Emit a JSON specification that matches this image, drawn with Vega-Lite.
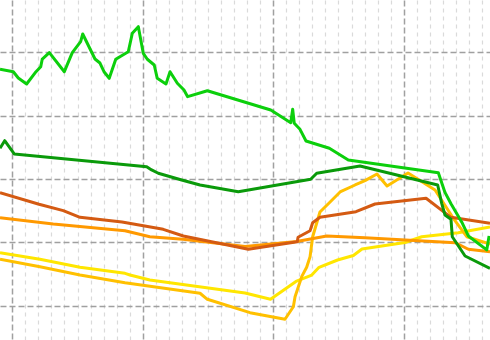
{
  "$schema": "https://vega.github.io/schema/vega-lite/v6.json",
  "width": 490,
  "height": 340,
  "padding": 0,
  "autosize": {"type": "none"},
  "background": "white",
  "config": {"view": {"stroke": null}},
  "data": {"values": [
    {"s":"yellow","x":-0.94,"y":8.39},{"s":"yellow","x":2.12,"y":7.35},{"s":"yellow","x":5.19,"y":6.09},{"s":"yellow","x":8.64,"y":5.14},{"s":"yellow","x":9.02,"y":4.87},{"s":"yellow","x":10.54,"y":4.09},{"s":"yellow","x":17.84,"y":2.03},{"s":"yellow","x":19.79,"y":1.04},{"s":"yellow","x":21.74,"y":3.85},{"s":"yellow","x":22.95,"y":4.87},{"s":"yellow","x":23.51,"y":6.09},{"s":"yellow","x":24.93,"y":7.24},{"s":"yellow","x":26.14,"y":7.95},{"s":"yellow","x":26.8,"y":8.97},{"s":"yellow","x":30.1,"y":10.0},{"s":"yellow","x":31.38,"y":10.91},{"s":"yellow","x":34.18,"y":11.55},{"s":"yellow","x":36.61,"y":12.44},
    {"s":"gold","x":-0.94,"y":7.35},{"s":"gold","x":2.12,"y":6.18},{"s":"gold","x":5.19,"y":4.87},{"s":"gold","x":8.64,"y":3.66},{"s":"gold","x":14.39,"y":1.99},{"s":"gold","x":14.95,"y":1.04},{"s":"gold","x":18.22,"y":-1.07},{"s":"gold","x":20.9,"y":-2.11},{"s":"gold","x":21.54,"y":-0.13},{"s":"gold","x":21.67,"y":1.45},{"s":"gold","x":22.18,"y":4.61},{"s":"gold","x":22.56,"y":6.09},{"s":"gold","x":22.82,"y":7.76},{"s":"gold","x":23.02,"y":10.91},{"s":"gold","x":23.58,"y":14.81},{"s":"gold","x":24.2,"y":16.07},{"s":"gold","x":25.12,"y":17.97},{"s":"gold","x":26.27,"y":19.07},{"s":"gold","x":27.03,"y":19.75},{"s":"gold","x":27.95,"y":20.8},{"s":"gold","x":28.72,"y":18.91},{"s":"gold","x":30.33,"y":20.96},{"s":"gold","x":32.4,"y":18.28},{"s":"gold","x":33.8,"y":13.82},{"s":"gold","x":34.83,"y":10.91},{"s":"gold","x":36.61,"y":9.76},
    {"s":"orange","x":-0.94,"y":13.91},{"s":"orange","x":3.14,"y":12.92},{"s":"orange","x":8.64,"y":11.86},{"s":"orange","x":10.54,"y":10.91},{"s":"orange","x":13.08,"y":10.5},{"s":"orange","x":17.84,"y":9.37},{"s":"orange","x":21.8,"y":10.16},{"s":"orange","x":24.1,"y":11.03},{"s":"orange","x":27.03,"y":10.76},{"s":"orange","x":33.93,"y":9.97},{"s":"orange","x":34.95,"y":8.93},{"s":"orange","x":36.61,"y":8.55},
    {"s":"darkorange","x":-0.94,"y":17.85},{"s":"darkorange","x":2.05,"y":16.03},{"s":"darkorange","x":3.91,"y":15.02},{"s":"darkorange","x":5.19,"y":13.97},{"s":"darkorange","x":8.41,"y":13.23},{"s":"darkorange","x":11.57,"y":12.08},{"s":"darkorange","x":13.11,"y":11.03},{"s":"darkorange","x":18.09,"y":8.93},{"s":"darkorange","x":21.84,"y":10.13},{"s":"darkorange","x":21.9,"y":10.82},{"s":"darkorange","x":22.82,"y":11.86},{"s":"darkorange","x":23.02,"y":13.12},{"s":"darkorange","x":23.58,"y":13.97},{"s":"darkorange","x":26.34,"y":14.86},{"s":"darkorange","x":27.8,"y":16.07},{"s":"darkorange","x":31.71,"y":16.97},{"s":"darkorange","x":33.62,"y":13.97},{"s":"darkorange","x":36.61,"y":13.03},
    {"s":"darkgreen","x":-0.94,"y":24.86},{"s":"darkgreen","x":-0.58,"y":26.06},{"s":"darkgreen","x":0.15,"y":23.96},{"s":"darkgreen","x":10.3,"y":21.96},{"s":"darkgreen","x":10.68,"y":21.44},{"s":"darkgreen","x":11.19,"y":20.92},{"s":"darkgreen","x":12.98,"y":19.86},{"s":"darkgreen","x":14.39,"y":19.07},{"s":"darkgreen","x":17.32,"y":18.01},{"s":"darkgreen","x":22.87,"y":19.97},{"s":"darkgreen","x":23.33,"y":20.92},{"s":"darkgreen","x":26.65,"y":22.07},{"s":"darkgreen","x":32.6,"y":19.07},{"s":"darkgreen","x":32.91,"y":16.18},{"s":"darkgreen","x":33.16,"y":14.34},{"s":"darkgreen","x":33.62,"y":13.66},{"s":"darkgreen","x":33.72,"y":10.91},{"s":"darkgreen","x":34.7,"y":7.87},{"s":"darkgreen","x":36.61,"y":5.93},
    {"s":"green","x":-0.94,"y":37.32},{"s":"green","x":0.08,"y":36.94},{"s":"green","x":0.46,"y":35.95},{"s":"green","x":1.1,"y":35.0},{"s":"green","x":1.82,"y":36.94},{"s":"green","x":2.18,"y":37.73},{"s":"green","x":2.3,"y":38.94},{"s":"green","x":2.84,"y":39.94},{"s":"green","x":3.99,"y":36.94},{"s":"green","x":4.6,"y":39.94},{"s":"green","x":5.24,"y":41.67},{"s":"green","x":5.4,"y":42.89},{"s":"green","x":6.34,"y":38.94},{"s":"green","x":6.72,"y":38.31},{"s":"green","x":7.03,"y":36.94},{"s":"green","x":7.43,"y":35.9},{"s":"green","x":7.93,"y":38.9},{"s":"green","x":8.25,"y":39.31},{"s":"green","x":8.89,"y":40.09},{"s":"green","x":9.2,"y":43.0},{"s":"green","x":9.66,"y":44.04},{"s":"green","x":10.04,"y":39.84},{"s":"green","x":10.35,"y":38.9},{"s":"green","x":10.88,"y":38.0},{"s":"green","x":11.11,"y":35.9},{"s":"green","x":11.78,"y":35.0},{"s":"green","x":12.09,"y":36.94},{"s":"green","x":12.65,"y":35.11},{"s":"green","x":13.16,"y":34.05},{"s":"green","x":13.44,"y":33.0},{"s":"green","x":14.95,"y":33.94},{"s":"green","x":19.81,"y":30.9},{"s":"green","x":21.34,"y":28.9},{"s":"green","x":21.49,"y":31.01},{"s":"green","x":21.61,"y":28.8},{"s":"green","x":22.05,"y":27.85},{"s":"green","x":22.51,"y":26.01},{"s":"green","x":24.3,"y":24.86},{"s":"green","x":25.75,"y":23.01},{"s":"green","x":32.65,"y":21.01},{"s":"green","x":33.16,"y":17.9},{"s":"green","x":33.62,"y":16.1},{"s":"green","x":34.45,"y":13.2},{"s":"green","x":34.95,"y":11.03},{"s":"green","x":36.36,"y":8.83},{"s":"green","x":36.54,"y":11.03}
  ]},
  "mark": {"type": "line", "strokeWidth": 3, "clip": true, "strokeJoin": "round"},
  "encoding": {
    "x": {"field": "x", "type": "quantitative",
      "scale": {"domain": [-0.94, 36.61], "nice": false, "zero": false},
      "axis": {"values": [0,1,2,3,4,5,6,7,8,9,10,11,12,13,14,15,16,17,18,19,20,21,22,23,24,25,26,27,28,29,30,31,32,33,34,35,36],
        "labels": false, "ticks": false, "domain": false, "title": null, "grid": true,
        "gridColor": {"condition": {"test": "datum.value % 10 === 0", "value": "#a0a0a0"}, "value": "#dadada"},
        "gridDash": {"condition": {"test": "datum.value % 10 === 0", "value": [6, 3]}, "value": [4, 4]},
        "gridWidth": {"condition": {"test": "datum.value % 10 === 0", "value": 1.5}, "value": 1.2}}},
    "y": {"field": "y", "type": "quantitative",
      "scale": {"domain": [-5.38, 48.25], "nice": false, "zero": false},
      "axis": {"values": [0, 10, 20, 30, 40], "labels": false, "ticks": false, "domain": false, "title": null,
        "grid": true, "gridColor": "#a0a0a0", "gridDash": [6, 3], "gridWidth": 1.5}},
    "color": {"field": "s", "type": "nominal", "legend": null,
      "scale": {"domain": ["yellow", "gold", "orange", "darkorange", "darkgreen", "green"],
        "range": ["#ffe600", "#ffc000", "#ff9900", "#d45a12", "#0a9a0a", "#0ccf0c"]}},
    "order": {"field": "x", "type": "quantitative"}
  }
}
